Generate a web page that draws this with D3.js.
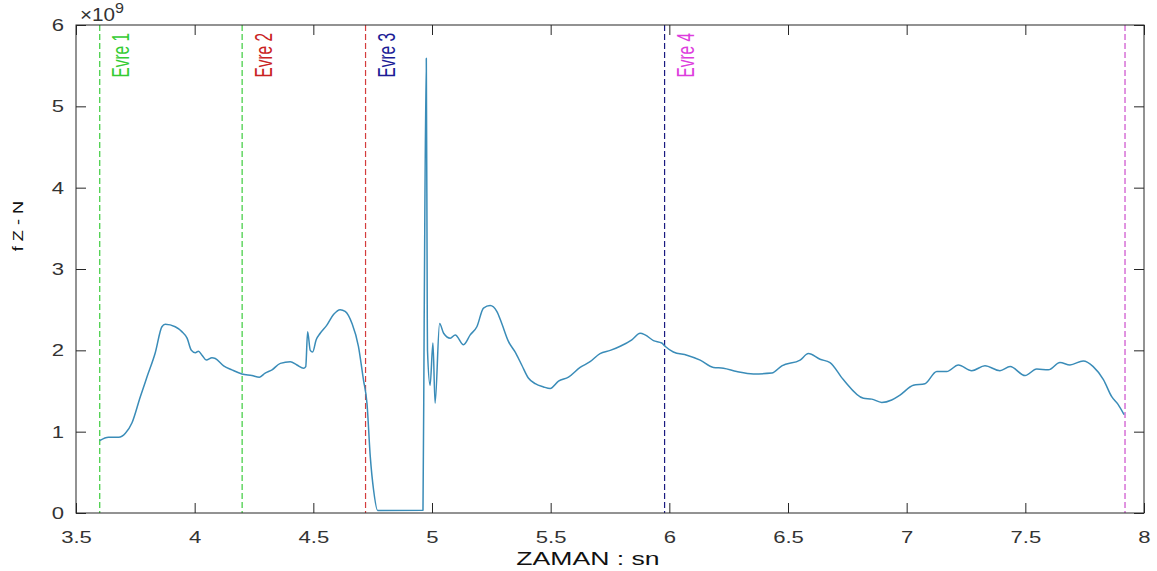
<!DOCTYPE html>
<html>
<head>
<meta charset="utf-8">
<script src="https://cdn.jsdelivr.net/npm/d3@7"></script>
<style>
  body { margin: 0; background: #fff; }
  svg { display: block; font-family: "Liberation Sans", Arial, sans-serif; }
</style>
</head>
<body>
<svg id="chart" width="1157" height="571"></svg>
<script>
// time (sn) and fZ-N values (x 1e9)
const times = [3.60, 3.637, 3.68, 3.708, 3.736, 3.771, 3.80, 3.834, 3.862, 3.876, 3.918, 3.946, 3.968, 3.986,
  4.003, 4.016, 4.031, 4.049, 4.073, 4.087, 4.122, 4.157, 4.199, 4.241, 4.273, 4.297, 4.326, 4.361, 4.403,
  4.431, 4.459, 4.468, 4.476, 4.487, 4.497, 4.512, 4.529, 4.557, 4.585, 4.613, 4.634, 4.663, 4.690, 4.711,
  4.726, 4.740, 4.754, 4.771, 4.962, 4.967, 4.976, 4.980, 4.981, 4.992, 5.004, 5.013, 5.032, 5.049, 5.077,
  5.098, 5.133, 5.161, 5.189, 5.217, 5.245, 5.273, 5.294, 5.322, 5.350, 5.378, 5.406, 5.435, 5.470, 5.498,
  5.533, 5.575, 5.624, 5.666, 5.708, 5.751, 5.793, 5.842, 5.877, 5.898, 5.933, 5.968, 5.982, 6.017, 6.074,
  6.130, 6.186, 6.228, 6.284, 6.354, 6.432, 6.474, 6.551, 6.586, 6.635, 6.677, 6.733, 6.818, 6.853, 6.895,
  6.937, 6.972, 7.028, 7.077, 7.127, 7.169, 7.218, 7.274, 7.330, 7.393, 7.436, 7.499, 7.548, 7.597, 7.646,
  7.688, 7.744, 7.786, 7.829, 7.864, 7.892, 7.916];
const fzn = [0.89, 0.93, 0.93, 0.98, 1.11, 1.43, 1.68, 1.97, 2.29, 2.32, 2.29, 2.23, 2.15, 2.00,
  1.97, 1.99, 1.94, 1.88, 1.91, 1.90, 1.81, 1.76, 1.71, 1.69, 1.67, 1.72, 1.76, 1.84, 1.86,
  1.82, 1.78, 1.80, 2.23, 2.00, 1.98, 2.13, 2.21, 2.31, 2.44, 2.50, 2.48, 2.33, 2.05, 1.64,
  1.35, 0.69, 0.28, 0.03, 0.035, 2.34, 5.59, 2.46, 2.00, 1.57, 2.09, 1.35, 2.33, 2.21, 2.15,
  2.19, 2.07, 2.19, 2.29, 2.52, 2.55, 2.48, 2.33, 2.11, 1.98, 1.82, 1.66, 1.59, 1.55, 1.53,
  1.62, 1.67, 1.79, 1.86, 1.96, 2.00, 2.05, 2.13, 2.21, 2.19, 2.12, 2.09, 2.05, 1.98, 1.94,
  1.88, 1.79, 1.78, 1.74, 1.71, 1.72, 1.81, 1.88, 1.96, 1.89, 1.85, 1.64, 1.41, 1.40, 1.36,
  1.39, 1.45, 1.57, 1.59, 1.74, 1.74, 1.82, 1.75, 1.81, 1.75, 1.80, 1.69, 1.77, 1.76, 1.85,
  1.82, 1.87, 1.80, 1.64, 1.43, 1.33, 1.21];

// phase boundaries
const phaseLines = [3.60, 4.20, 4.72, 5.98, 7.92];
const phaseLineColors = ["#3ccc3c", "#3ccc3c", "#d43c3c", "#1a1a80", "#cc4fcc"];
const phaseNames = ["Evre 1", "Evre 2", "Evre 3", "Evre 4"];
const phaseColors = ["#33cc33", "#c92222", "#1c1c96", "#dd3cdd"];

const xTicks = [3.5, 4, 4.5, 5, 5.5, 6, 6.5, 7, 7.5, 8];
const yTicks = [0, 1, 2, 3, 4, 5, 6];

const svg = d3.select("#chart");
const pl = 76, pr = 1144, pt = 25, pb = 513;
const x = d3.scaleLinear().domain([3.5, 8]).range([pl, pr]);
const y = d3.scaleLinear().domain([0, 6]).range([pb, pt]);
const axisColor = "#262626", tickText = "#333";
const stretch = 1.3; // the picture's text is drawn wide

// phase lines
svg.append("g").selectAll("line").data(phaseLines).join("line")
  .attr("x1", d => x(d)).attr("x2", d => x(d))
  .attr("y1", pt).attr("y2", pb)
  .attr("stroke", (d, i) => phaseLineColors[i])
  .attr("stroke-width", 1.2)
  .attr("stroke-dasharray", "6,3");

// phase labels (narrow type)
svg.append("g").selectAll("text").data(phaseNames).join("text")
  .attr("transform", (d, i) => `translate(${x(phaseLines[i]) + 29.5},${pt + 8}) rotate(-90) scale(0.67,1)`)
  .attr("text-anchor", "end")
  .attr("font-size", 23)
  .attr("fill", (d, i) => phaseColors[i])
  .text(d => d);

// data line
const line = d3.line().x((d, i) => x(times[i])).y(d => y(d)).curve(d3.curveMonotoneX);
svg.append("path").datum(fzn)
  .attr("fill", "none")
  .attr("stroke", "#3a8cb8")
  .attr("stroke-width", 1.5)
  .attr("stroke-linejoin", "round")
  .attr("d", line);

// box + inward ticks (MATLAB style)
const tl = 10;
const ax = svg.append("g");
ax.append("rect").attr("x", pl).attr("y", pt).attr("width", pr - pl).attr("height", pb - pt)
  .attr("fill", "none").attr("stroke", axisColor).attr("stroke-width", 1);

const xb = ax.append("g").attr("transform", `translate(0,${pb})`)
  .call(d3.axisBottom(x).tickValues(xTicks).tickSize(-tl).tickPadding(tl + 8).tickFormat(d3.format("")));
const xt = ax.append("g").attr("transform", `translate(0,${pt})`)
  .call(d3.axisTop(x).tickValues(xTicks).tickSize(-tl).tickFormat(""));
const yl = ax.append("g").attr("transform", `translate(${pl},0)`)
  .call(d3.axisLeft(y).tickValues(yTicks).tickSize(-tl).tickFormat(d3.format("d")));
const yr = ax.append("g").attr("transform", `translate(${pr},0)`)
  .call(d3.axisRight(y).tickValues(yTicks).tickSize(-tl).tickFormat(""));
[xb, xt, yl, yr].forEach(g => {
  g.select(".domain").remove();
  g.selectAll(".tick line").attr("stroke", axisColor);
  g.selectAll(".tick text").attr("fill", tickText).attr("font-size", 17)
    .attr("transform", `scale(${stretch},1)`);
});
yl.selectAll(".tick text").attr("x", -12 / stretch);

// exponent
const ex = svg.append("text").attr("transform", "translate(80,21) scale(1.15,1)")
  .attr("fill", tickText).attr("font-size", 18);
ex.append("tspan").text("\u00d710");
ex.append("tspan").attr("dy", -8).attr("font-size", 14).text("9");

// axis titles
svg.append("text").attr("transform", "translate(588,565) scale(1.4,1)").attr("text-anchor", "middle")
  .attr("fill", "#111").attr("font-size", 19).text("ZAMAN : sn");
svg.append("text").attr("transform", "translate(22.5,226) rotate(-90) scale(1.3,1)").attr("text-anchor", "middle")
  .attr("fill", "#111").attr("font-size", 14).text("f Z - N");
</script>
</body>
</html>
